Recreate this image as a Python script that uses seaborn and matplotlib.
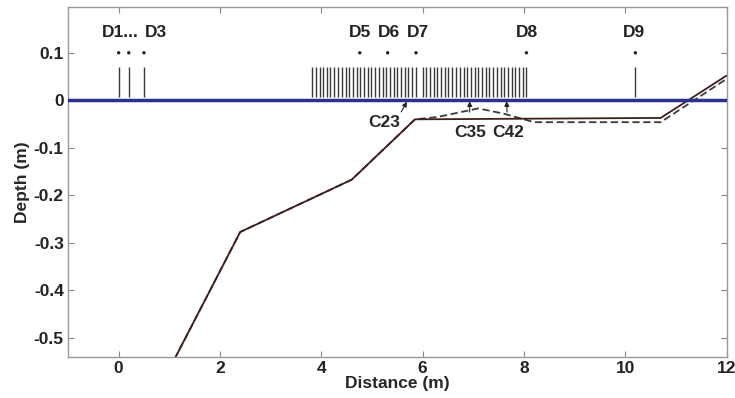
import matplotlib
matplotlib.use("Agg")
import matplotlib.pyplot as plt
import seaborn as sns
import pandas as pd

# bed profiles (distance, depth)
solid_x = [1.10, 2.40, 4.60, 5.85, 10.70, 12.00]
solid_y = [-0.545, -0.277, -0.167, -0.040, -0.037, 0.052]

dashed_x = [1.10, 2.40, 4.60, 5.85, 6.30, 7.10, 7.60, 8.20, 10.70, 12.00]
dashed_y = [-0.545, -0.277, -0.167, -0.040, -0.035, -0.017, -0.028, -0.046, -0.046, 0.045]

# dense wave gauge array C1..
c_gauges = [3.82, 3.89, 3.97, 4.04, 4.11, 4.18, 4.26, 4.33, 4.41, 4.48,
            4.55, 4.62, 4.70, 4.77, 4.84, 4.92, 4.99, 5.06, 5.14, 5.21,
            5.28, 5.35, 5.43, 5.50, 5.57, 5.65, 5.72, 5.79, 5.87,
            6.00, 6.07, 6.15, 6.22, 6.29, 6.37, 6.44, 6.51, 6.59, 6.66,
            6.73, 6.81, 6.88, 6.95, 7.03, 7.10, 7.17, 7.25, 7.32, 7.39,
            7.47, 7.54, 7.61, 7.69, 7.76, 7.83, 7.91, 7.98, 8.05]

# D gauges: stems and dots
d_stems = [0.0, 0.2, 0.5, 10.2]
d_dots = [0.0, 0.2, 0.5, 4.76, 5.31, 5.87, 8.05, 10.2]
d_labels = ["D1...", "D3", "D5", "D6", "D7", "D8", "D9"]
d_label_x = [0.04, 0.74, 4.76, 5.33, 5.90, 8.05, 10.18]

# annotated gauges
c_names = ["C23", "C35", "C42"]
c_point_x = [5.69, 6.93, 7.66]
c_text_x = [5.25, 6.93, 7.68]

sns.set_style("ticks")
plt.rcParams["font.family"] = ["Liberation Sans", "DejaVu Sans"]
plt.rcParams["font.weight"] = "bold"

FS = 12.5

fig = plt.figure(figsize=(7.35, 3.98), dpi=100)
ax = fig.add_axes([0.0925, 0.103, 0.896, 0.879])

solid = pd.DataFrame({"x": solid_x, "y": solid_y})
dashed = pd.DataFrame({"x": dashed_x, "y": dashed_y})

sns.lineplot(data=dashed, x="x", y="y", sort=False, color="#3a3a3a",
             linestyle=(0, (4, 2)), linewidth=1.3, ax=ax)
sns.lineplot(data=solid, x="x", y="y", sort=False, color="#3d1f1f",
             linewidth=1.3, ax=ax)

ax.axhline(0, color="#2b318c", linewidth=2.5, zorder=3)

ax.vlines(c_gauges, 0.008, 0.07, color="#3a3a3a", linewidth=1.0)
ax.vlines(d_stems, 0.008, 0.07, color="#3a3a3a", linewidth=1.0)
sns.scatterplot(x=d_dots, y=[0.1] * len(d_dots), color="#222222", s=6,
                edgecolor="none", ax=ax)

for lab, lx in zip(d_labels, d_label_x):
    ax.text(lx, 0.143, lab, ha="center", va="center", fontsize=FS,
            fontweight="bold", color="#222222")

arrow = dict(arrowstyle="-|>", color="#222222", lw=0.8, mutation_scale=7)
ax.annotate(c_names[0], xy=(c_point_x[0], -0.003), xytext=(c_text_x[0], -0.047),
            ha="center", va="center", fontsize=FS, fontweight="bold",
            arrowprops=dict(arrow, shrinkA=0, shrinkB=0, relpos=(0.95, 0.95)))
for name, px, tx in zip(c_names[1:], c_point_x[1:], c_text_x[1:]):
    ax.annotate(name, xy=(px, -0.002), xytext=(tx, -0.068),
                ha="center", va="center", fontsize=FS, fontweight="bold",
                arrowprops=dict(arrow, shrinkA=7, shrinkB=0))

ax.set_xlim(-1, 12)
ax.set_ylim(-0.54, 0.196)
ax.set_xticks([0, 2, 4, 6, 8, 10, 12])
ax.set_xticklabels(["0", "2", "4", "6", "8", "10", "12"])
ax.set_yticks([0.1, 0, -0.1, -0.2, -0.3, -0.4, -0.5])
ax.set_yticklabels(["0.1", "0", "-0.1", "-0.2", "-0.3", "-0.4", "-0.5"])
ax.tick_params(direction="in", top=True, right=True, length=4, labelsize=FS,
               color="#888888", labelcolor="#222222", pad=3)
for lab in ax.get_xticklabels() + ax.get_yticklabels():
    lab.set_fontweight("bold")
for sp in ax.spines.values():
    sp.set_visible(True)
    sp.set_color("#999999")
    sp.set_linewidth(1.0)

ax.set_xlabel("Distance (m)", fontsize=FS, fontweight="bold", labelpad=0)
ax.set_ylabel("Depth (m)", fontsize=FS, fontweight="bold", labelpad=3)

fig.savefig("out.png", dpi=100)
